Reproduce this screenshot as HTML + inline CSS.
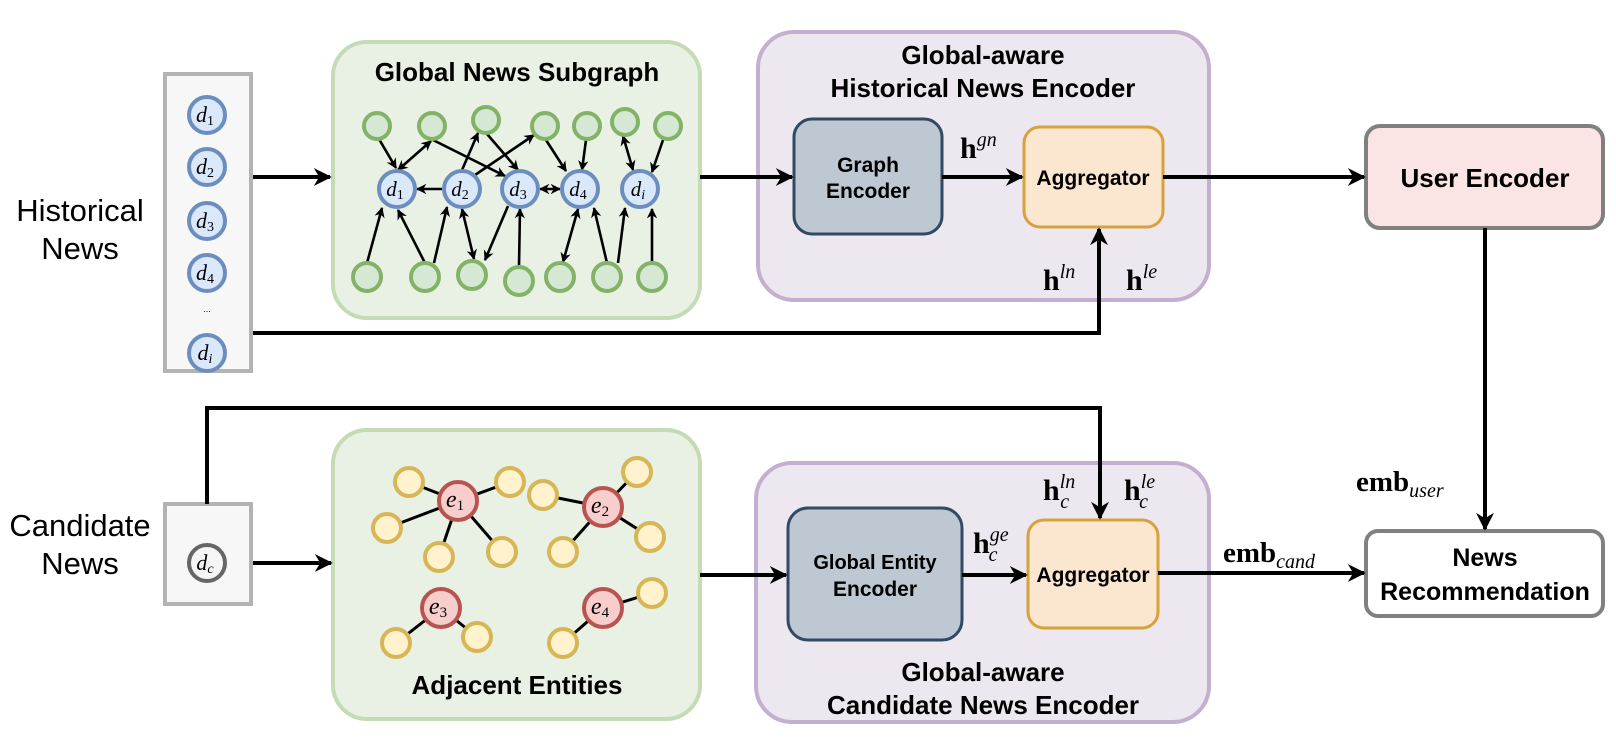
<!DOCTYPE html>
<html><head><meta charset="utf-8"><style>
html,body{margin:0;padding:0;background:#fff}
svg{display:block}
.t{font-family:"Liberation Sans",sans-serif;font-weight:bold;fill:#000}
.m{font-family:"Liberation Serif",serif;fill:#000}
</style></head><body>
<svg width="1616" height="744" viewBox="0 0 1616 744" xmlns="http://www.w3.org/2000/svg">
<defs>
<marker id="A" viewBox="0 0 10 10" refX="9" refY="5" markerWidth="4.5" markerHeight="4.5" orient="auto" markerUnits="strokeWidth"><path d="M0,0 L10,5 L0,10 L3,5 z" fill="#000"/></marker>
<marker id="a" viewBox="0 0 10 10" refX="9" refY="5" markerWidth="4" markerHeight="4" orient="auto" markerUnits="strokeWidth"><path d="M0,0 L10,5 L0,10 L3,5 z" fill="#000"/></marker>
<marker id="as" viewBox="0 0 10 10" refX="1" refY="5" markerWidth="4" markerHeight="4" orient="auto" markerUnits="strokeWidth"><path d="M10,0 L0,5 L10,10 L7,5 z" fill="#000"/></marker>
</defs>

<!-- left labels -->
<text x="80" y="221" font-family="Liberation Sans,sans-serif" font-size="31" text-anchor="middle">Historical</text>
<text x="80" y="259" font-family="Liberation Sans,sans-serif" font-size="31" text-anchor="middle">News</text>
<text x="80" y="536" font-family="Liberation Sans,sans-serif" font-size="31" text-anchor="middle">Candidate</text>
<text x="80" y="574" font-family="Liberation Sans,sans-serif" font-size="31" text-anchor="middle">News</text>

<!-- historical column -->
<rect x="165" y="74" width="86" height="297" fill="#f7f7f7" stroke="#b3b3b3" stroke-width="4"/>
<g fill="#dae8fc" stroke="#6c8ebf" stroke-width="4">
<circle cx="207" cy="115" r="18"/><circle cx="207" cy="167" r="18"/><circle cx="207" cy="221" r="18"/><circle cx="207" cy="273" r="18"/><circle cx="207" cy="353" r="18"/>
</g>
<g class="m" font-style="italic" font-size="22" text-anchor="middle">
<text x="205" y="122">d<tspan font-size="14" font-style="normal" dy="3">1</tspan></text>
<text x="205" y="174">d<tspan font-size="14" font-style="normal" dy="3">2</tspan></text>
<text x="205" y="228">d<tspan font-size="14" font-style="normal" dy="3">3</tspan></text>
<text x="205" y="280">d<tspan font-size="14" font-style="normal" dy="3">4</tspan></text>
<text x="205" y="360">d<tspan font-size="14" dy="3">i</tspan></text>
</g>
<text x="207" y="312" font-family="Liberation Sans,sans-serif" font-size="9" text-anchor="middle">...</text>

<!-- candidate column -->
<rect x="165" y="504" width="86" height="100" fill="#f7f7f7" stroke="#b3b3b3" stroke-width="4"/>
<circle cx="207" cy="563" r="18" fill="#f5f5f5" stroke="#666" stroke-width="4"/>
<text x="205" y="570" class="m" font-style="italic" font-size="22" text-anchor="middle" fill="#333">d<tspan font-size="14" dy="3">c</tspan></text>

<!-- green box 1 -->
<rect x="333" y="42" width="367" height="276" rx="34" fill="#e9f1e5" stroke="#c4dbb5" stroke-width="4"/>
<text x="517" y="81" class="t" font-size="26" text-anchor="middle">Global News Subgraph</text>
<g stroke="#000" stroke-width="2.6" fill="none" marker-end="url(#a)">
<line x1="379" y1="139" x2="396" y2="168"/>
<line x1="398" y1="170" x2="431" y2="141" marker-start="url(#as)"/>
<line x1="433" y1="140" x2="505" y2="176"/>
<line x1="462" y1="170" x2="478" y2="133"/>
<line x1="487" y1="134" x2="518" y2="170"/>
<line x1="475" y1="175" x2="534" y2="135"/>
<line x1="546" y1="140" x2="566" y2="171"/>
<line x1="586" y1="140" x2="582" y2="170"/>
<line x1="623" y1="136" x2="633" y2="170" marker-start="url(#as)"/>
<line x1="663" y1="140" x2="652" y2="172"/>
<line x1="442" y1="189" x2="417" y2="189"/>
<line x1="540" y1="189" x2="560" y2="189" marker-start="url(#as)"/>
<line x1="367" y1="263" x2="382" y2="208"/>
<line x1="425" y1="263" x2="398" y2="210"/>
<line x1="434" y1="263" x2="447" y2="207"/>
<line x1="462" y1="209" x2="474" y2="259" marker-start="url(#as)"/>
<line x1="508" y1="206" x2="485" y2="260"/>
<line x1="519" y1="266" x2="520" y2="209"/>
<line x1="578" y1="209" x2="563" y2="262" marker-start="url(#as)"/>
<line x1="607" y1="263" x2="594" y2="208"/>
<line x1="618" y1="263" x2="625" y2="208"/>
<line x1="652" y1="263" x2="652" y2="209"/>
</g>
<g fill="#d5e8d4" stroke="#82b366" stroke-width="4">
<circle cx="377" cy="126" r="13"/><circle cx="432" cy="126" r="13"/><circle cx="486" cy="120" r="13"/><circle cx="545" cy="126" r="13"/><circle cx="587" cy="126" r="13"/><circle cx="625" cy="122" r="13"/><circle cx="668" cy="126" r="13"/>
<circle cx="367" cy="277" r="14"/><circle cx="425" cy="277" r="14"/><circle cx="472" cy="275" r="14"/><circle cx="519" cy="281" r="14"/><circle cx="560" cy="277" r="14"/><circle cx="607" cy="277" r="14"/><circle cx="652" cy="277" r="14"/>
</g>
<g fill="#dae8fc" stroke="#6c8ebf" stroke-width="4">
<circle cx="397" cy="189" r="18"/><circle cx="462" cy="189" r="18"/><circle cx="520" cy="189" r="18"/><circle cx="580" cy="189" r="18"/><circle cx="640" cy="189" r="18"/>
</g>
<g class="m" font-style="italic" font-size="21" text-anchor="middle">
<text x="395" y="196">d<tspan font-size="14" font-style="normal" dy="3">1</tspan></text>
<text x="460" y="196">d<tspan font-size="14" font-style="normal" dy="3">2</tspan></text>
<text x="518" y="196">d<tspan font-size="14" font-style="normal" dy="3">3</tspan></text>
<text x="578" y="196">d<tspan font-size="14" font-style="normal" dy="3">4</tspan></text>
<text x="638" y="196">d<tspan font-size="14" dy="3">i</tspan></text>
</g>

<!-- green box 2 -->
<rect x="333" y="430" width="367" height="289" rx="34" fill="#e9f1e5" stroke="#c4dbb5" stroke-width="4"/>
<g stroke="#000" stroke-width="3">
<line x1="458" y1="501" x2="409" y2="482"/><line x1="458" y1="501" x2="510" y2="482"/><line x1="458" y1="501" x2="387" y2="528"/><line x1="458" y1="501" x2="439" y2="557"/><line x1="458" y1="501" x2="502" y2="552"/>
<line x1="603" y1="507" x2="543" y2="495"/><line x1="603" y1="507" x2="637" y2="472"/><line x1="603" y1="507" x2="650" y2="537"/><line x1="603" y1="507" x2="563" y2="552"/>
<line x1="441" y1="608" x2="396" y2="643"/><line x1="441" y1="608" x2="477" y2="637"/>
<line x1="603" y1="608" x2="652" y2="593"/><line x1="603" y1="608" x2="563" y2="643"/>
</g>
<g fill="#fff2cc" stroke="#d6b656" stroke-width="4">
<circle cx="409" cy="482" r="14"/><circle cx="510" cy="482" r="14"/><circle cx="387" cy="528" r="14"/><circle cx="439" cy="557" r="14"/><circle cx="502" cy="552" r="14"/>
<circle cx="543" cy="495" r="14"/><circle cx="637" cy="472" r="14"/><circle cx="650" cy="537" r="14"/><circle cx="563" cy="552" r="14"/>
<circle cx="396" cy="643" r="14"/><circle cx="477" cy="637" r="14"/><circle cx="652" cy="593" r="14"/><circle cx="563" cy="643" r="14"/>
</g>
<g fill="#f8cecc" stroke="#b85450" stroke-width="4">
<circle cx="458" cy="501" r="19"/><circle cx="603" cy="507" r="19"/><circle cx="441" cy="608" r="19"/><circle cx="603" cy="608" r="19"/>
</g>
<g class="m" font-style="italic" font-size="24" text-anchor="middle">
<text x="455" y="507">e<tspan font-size="15" font-style="normal" dy="3">1</tspan></text>
<text x="600" y="513">e<tspan font-size="15" font-style="normal" dy="3">2</tspan></text>
<text x="438" y="614">e<tspan font-size="15" font-style="normal" dy="3">3</tspan></text>
<text x="600" y="614">e<tspan font-size="15" font-style="normal" dy="3">4</tspan></text>
</g>
<text x="517" y="694" class="t" font-size="26" text-anchor="middle">Adjacent Entities</text>

<!-- purple box 1 -->
<rect x="758" y="32" width="451" height="268" rx="36" fill="#ede7f0" stroke="#c3b0d1" stroke-width="4"/>
<text x="983" y="64" class="t" font-size="26" text-anchor="middle">Global-aware</text>
<text x="983" y="97" class="t" font-size="26" text-anchor="middle">Historical News Encoder</text>
<rect x="794" y="119" width="148" height="115" rx="18" fill="#bdc8d2" stroke="#314a62" stroke-width="3"/>
<text x="868" y="172" class="t" font-size="21" text-anchor="middle">Graph</text>
<text x="868" y="198" class="t" font-size="21" text-anchor="middle">Encoder</text>
<rect x="1024" y="127" width="139" height="100" rx="16" fill="#fbe6cf" stroke="#d6a23b" stroke-width="3"/>
<text x="1093" y="185" class="t" font-size="21" text-anchor="middle">Aggregator</text>
<text x="960" y="158" class="m" font-weight="bold" font-size="30">h<tspan font-weight="normal" font-style="italic" font-size="20" dy="-12">gn</tspan></text>
<text x="1043" y="290" class="m" font-weight="bold" font-size="30">h<tspan font-weight="normal" font-style="italic" font-size="20" dy="-12">ln</tspan></text>
<text x="1126" y="290" class="m" font-weight="bold" font-size="30">h<tspan font-weight="normal" font-style="italic" font-size="20" dy="-12">le</tspan></text>

<!-- purple box 2 -->
<rect x="756" y="463" width="453" height="259" rx="36" fill="#ede7f0" stroke="#c3b0d1" stroke-width="4"/>
<rect x="788" y="508" width="174" height="132" rx="20" fill="#bdc8d2" stroke="#314a62" stroke-width="3"/>
<text x="875" y="569" class="t" font-size="20" text-anchor="middle">Global Entity</text>
<text x="875" y="596" class="t" font-size="21" text-anchor="middle">Encoder</text>
<rect x="1028" y="520" width="130" height="108" rx="16" fill="#fbe6cf" stroke="#d6a23b" stroke-width="3"/>
<text x="1093" y="582" class="t" font-size="21" text-anchor="middle">Aggregator</text>
<text x="973" y="553" class="m" font-weight="bold" font-size="30">h<tspan font-weight="normal" font-style="italic" font-size="20" dy="-12">ge</tspan><tspan font-weight="normal" font-style="italic" font-size="20" dx="-20" dy="20">c</tspan></text>
<text x="1043" y="500" class="m" font-weight="bold" font-size="30">h<tspan font-weight="normal" font-style="italic" font-size="20" dy="-12">ln</tspan><tspan font-weight="normal" font-style="italic" font-size="20" dx="-15" dy="20">c</tspan></text>
<text x="1124" y="500" class="m" font-weight="bold" font-size="30">h<tspan font-weight="normal" font-style="italic" font-size="20" dy="-12">le</tspan><tspan font-weight="normal" font-style="italic" font-size="20" dx="-16" dy="20">c</tspan></text>
<text x="983" y="681" class="t" font-size="26" text-anchor="middle">Global-aware</text>
<text x="983" y="714" class="t" font-size="26" text-anchor="middle">Candidate News Encoder</text>

<!-- right boxes -->
<rect x="1366" y="126" width="237" height="102" rx="14" fill="#fae5e4" stroke="#808080" stroke-width="4"/>
<text x="1485" y="187" class="t" font-size="26" text-anchor="middle">User Encoder</text>
<rect x="1366" y="531" width="237" height="85" rx="12" fill="#fff" stroke="#808080" stroke-width="4"/>
<text x="1485" y="566" class="t" font-size="25" text-anchor="middle">News</text>
<text x="1485" y="600" class="t" font-size="25" text-anchor="middle">Recommendation</text>
<text x="1356" y="491" class="m" font-weight="bold" font-size="29">emb<tspan font-weight="normal" font-style="italic" font-size="20" dy="6">user</tspan></text>
<text x="1223" y="562" class="m" font-weight="bold" font-size="29">emb<tspan font-weight="normal" font-style="italic" font-size="20" dy="6">cand</tspan></text>

<!-- main connectors -->
<g stroke="#000" stroke-width="4" fill="none" marker-end="url(#A)">
<line x1="253" y1="177" x2="330" y2="177"/>
<line x1="700" y1="177" x2="792" y2="177"/>
<line x1="942" y1="177" x2="1022" y2="177"/>
<line x1="1163" y1="177" x2="1364" y2="177"/>
<polyline points="253,333 1099,333 1099,229"/>
<line x1="1485" y1="228" x2="1485" y2="529"/>
<line x1="253" y1="563" x2="331" y2="563"/>
<line x1="700" y1="575" x2="786" y2="575"/>
<line x1="962" y1="575" x2="1026" y2="575"/>
<polyline points="207,504 207,408 1100,408 1100,518"/>
<line x1="1158" y1="573" x2="1364" y2="573"/>
</g>
</svg>
</body></html>
